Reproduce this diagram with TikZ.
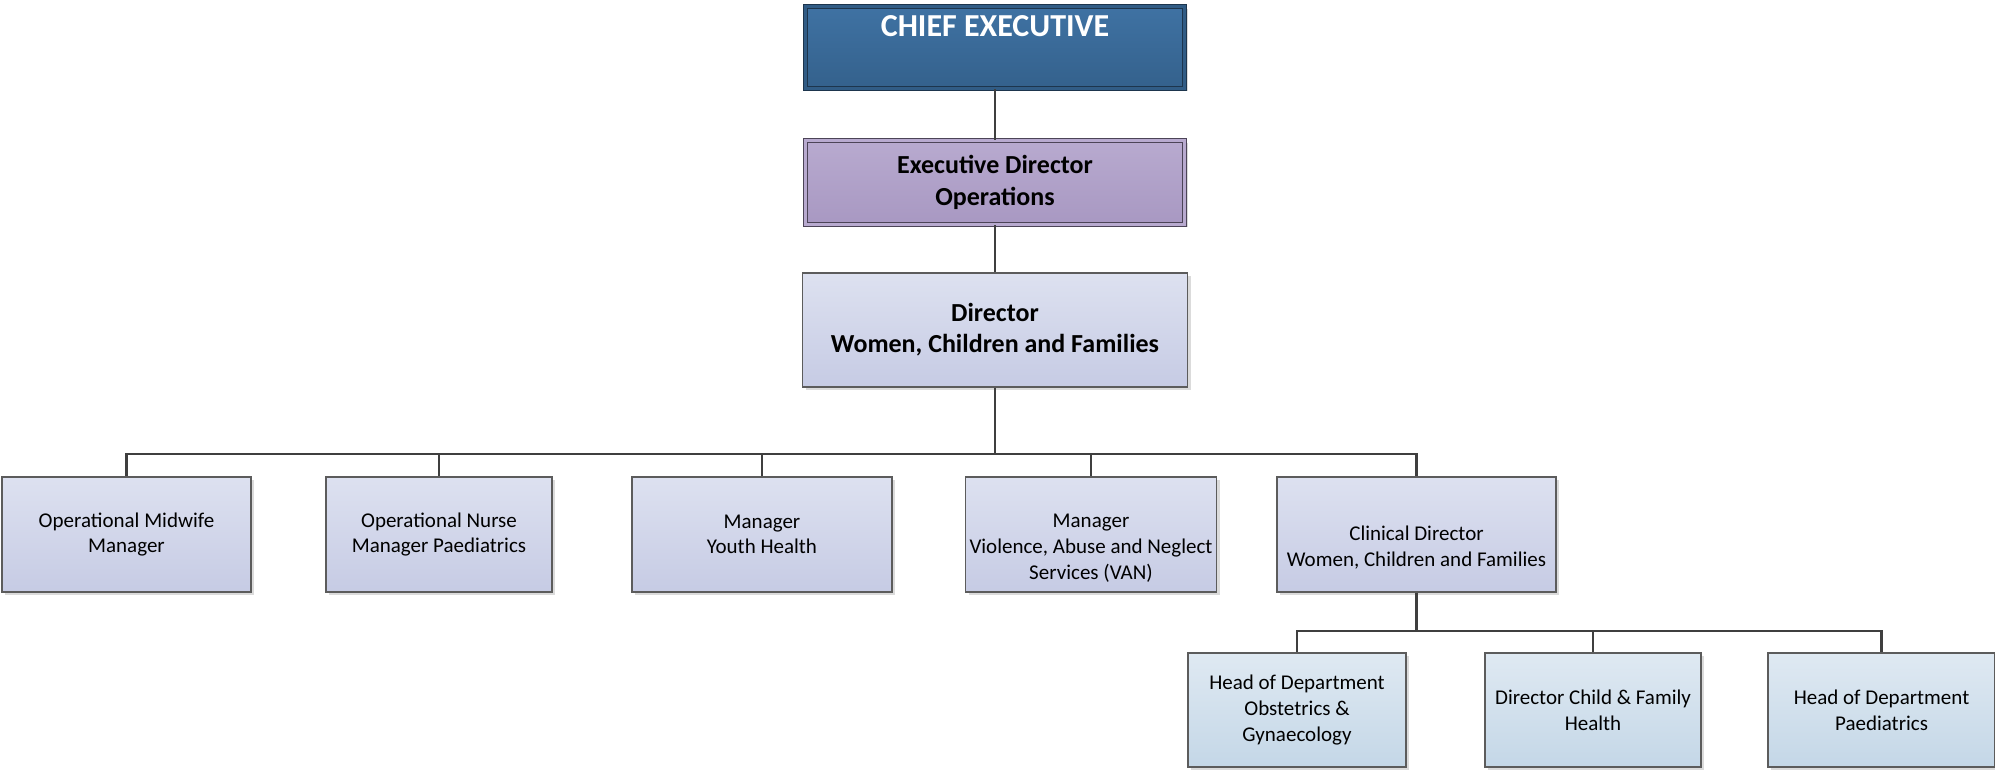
\documentclass[tikz,border=0pt]{standalone}
\usepackage{fontspec}
\setmainfont{Carlito}
\usetikzlibrary{shadows}
\definecolor{ceoA}{HTML}{3F72A3}
\definecolor{ceoB}{HTML}{34618C}
\definecolor{edA}{HTML}{B8AACF}
\definecolor{edB}{HTML}{A898C2}
\definecolor{boxA}{HTML}{DDE1F0}
\definecolor{boxB}{HTML}{C6CBE4}
\definecolor{depA}{HTML}{DFE9F2}
\definecolor{depB}{HTML}{C4D7E7}
\definecolor{linegray}{HTML}{3F3F3F}
\begin{document}
\begin{tikzpicture}[x=0.5pt,y=-0.5pt,
    orgbox/.style={draw=linegray!85,line width=0.6pt,align=center,inner sep=2pt,
      drop shadow={shadow xshift=1.5pt,shadow yshift=-1.5pt,fill=black!14,opacity=1},
      font=\fontsize{10.5}{12.8}\selectfont,minimum height=57.5pt},
    mgr/.style={orgbox,top color=boxA,bottom color=boxB},
    dept/.style={orgbox,top color=depA,bottom color=depB,minimum height=57pt},
    topbox/.style={orgbox,line width=0.5pt,double distance=1.5pt,
      font=\fontsize{13}{15.8}\selectfont\bfseries},
    conn/.style={draw=linegray,line width=1.25pt}]
  \def\lowstrut{\rule{0pt}{20.5pt}}
  \useasboundingbox (0,0) rectangle (1995,770);
  % top of the chart
  \node[topbox,top color=ceoA,bottom color=ceoB,draw=ceoB!55!black,double=ceoB!95!black,
    text=white,font=\fontsize{16}{19}\selectfont\bfseries,text depth=21pt,
    minimum width=189.5pt,minimum height=41pt] (ceo) at (995,47.5) {CHIEF EXECUTIVE};
  \node[topbox,top color=edA,bottom color=edB,draw=edB!45!black,double=edA,
    minimum width=189.5pt,minimum height=42pt] (exd) at (995,182.5) {Executive Director\\Operations};
  \node[mgr,font=\fontsize{13}{15.5}\selectfont\bfseries,
    minimum width=192.5pt,minimum height=57pt] (dir) at (995,330) {Director\\ Women, Children and Families};
  % managers
  \node[mgr,minimum width=124.5pt] (midw) at (126.5,534.5) {Operational Midwife\\Manager};
  \node[mgr,minimum width=113pt] (nurse) at (439,534.5) {Operational Nurse\\Manager Paediatrics};
  \node[mgr,minimum width=130pt] (youth) at (762,534.5) {Manager\\Youth Health};
  \node[mgr,minimum width=125pt] (van) at (1091,534.5) {\lowstrut Manager\\Violence, Abuse and Neglect\\Services (VAN)};
  \node[mgr,minimum width=139.5pt] (clin) at (1416.5,534.5) {\lowstrut Clinical Director\\Women, Children and Families};
  % departments
  \node[dept,minimum width=109pt] (hod) at (1297,710) {Head of Department\\Obstetrics \&\\Gynaecology};
  \node[dept,minimum width=108pt] (cfh) at (1593,710) {Director Child \& Family\\Health};
  \node[dept,minimum width=113.5pt] (paed) at (1881.5,710) {Head of Department\\Paediatrics};
  % lines
  \coordinate (bus) at (995,454);
  \coordinate (bus2) at (1416.5,631);
  \draw[conn] (ceo) -- (exd);
  \draw[conn] (exd) -- (dir);
  \draw[conn] (dir) -- (bus);
  \foreach \n in {midw,nurse,youth,van,clin}
    \draw[conn] (bus) -| (\n.north);
  \draw[conn] (clin) -- (bus2);
  \foreach \n in {hod,cfh,paed}
    \draw[conn] (bus2) -| (\n.north);
\end{tikzpicture}
\end{document}
